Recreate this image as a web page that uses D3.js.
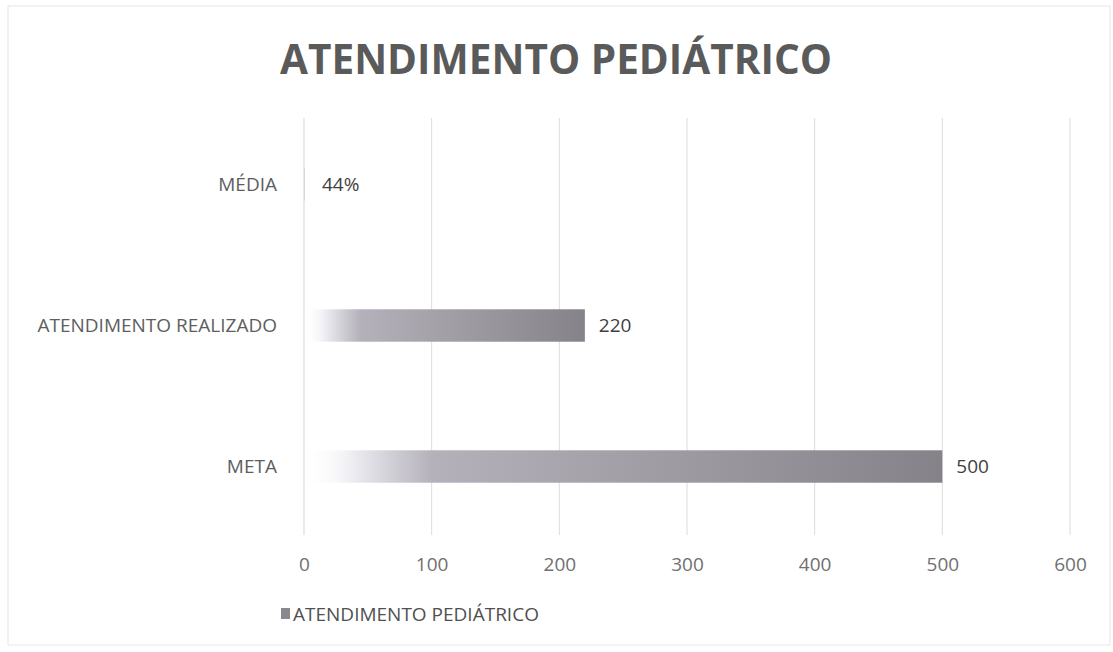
<!DOCTYPE html>
<html><head><meta charset="utf-8">
<script src="https://cdn.jsdelivr.net/npm/d3@7"></script>
<style>body{margin:0;background:#fff}svg{display:block}text{font-family:"Open Sans",sans-serif}</style>
</head><body>
<svg id="c" width="1113" height="652"></svg>
<script>
const title = "ATENDIMENTO PEDIÁTRICO";
const categories = ["MÉDIA", "ATENDIMENTO REALIZADO", "META"];
const values = [0.44, 220, 500];
const valueLabels = ["44%", "220", "500"];
const ticks = [0, 100, 200, 300, 400, 500, 600];
const legendLabel = "ATENDIMENTO PEDIÁTRICO";

const svg = d3.select("#c");
const m = {left: 304, right: 1070, top: 114, bottom: 537};

svg.append("rect").attr("x", 8).attr("y", 6).attr("width", 1102).attr("height", 639)
  .attr("fill", "#fff").attr("stroke", "#e6e6e6").attr("stroke-width", 1);

const defs = svg.append("defs");
const g = defs.append("linearGradient").attr("id", "barGrad").attr("x1", "0").attr("x2", "1").attr("y1", "0").attr("y2", "0");
g.append("stop").attr("offset", "0%").attr("stop-color", "#ffffff").attr("stop-opacity", 0);
g.append("stop").attr("offset", "7%").attr("stop-color", "#f0eff4");
g.append("stop").attr("offset", "20%").attr("stop-color", "#b4b1ba");
g.append("stop").attr("offset", "100%").attr("stop-color", "#858289");

const x = d3.scaleLinear().domain([0, 600]).range([m.left, m.right]);
const y = d3.scaleBand().domain(categories).range([m.top, m.bottom]).paddingInner(0.77).paddingOuter(0.385);

// gridlines (non-zero)
svg.append("g").selectAll("line").data(ticks.filter(t => t !== 0)).join("line")
  .attr("x1", d => x(d)).attr("x2", d => x(d))
  .attr("y1", 118).attr("y2", 535)
  .attr("stroke", "#dcdcdc").attr("stroke-width", 1);

// bars
svg.append("g").selectAll("rect").data(values).join("rect")
  .attr("x", x(0)).attr("y", (d, i) => y(categories[i]))
  .attr("width", d => x(d) - x(0)).attr("height", y.bandwidth())
  .attr("fill", "url(#barGrad)");

// zero line on top
svg.append("line").attr("x1", x(0)).attr("x2", x(0)).attr("y1", 118).attr("y2", 535)
  .attr("stroke", "#e2e2e2").attr("stroke-width", 1.4);

// axis tick labels
const xAxis = d3.axisBottom(x).tickValues(ticks).tickSize(0).tickPadding(0);
const ax = svg.append("g").attr("transform", "translate(0,554)").call(xAxis);
ax.select(".domain").remove();
ax.selectAll("text").attr("font-size", 19).attr("fill", "#707070").attr("dy", "0.9em")
  .style("font-family", '"Open Sans",sans-serif');

// category labels
const yAxis = d3.axisLeft(y).tickSize(0).tickPadding(0);
const ay = svg.append("g").attr("transform", "translate(277,0)").call(yAxis);
ay.select(".domain").remove();
ay.selectAll("text").attr("font-size", 19).attr("fill", "#5e5e5e")
  .style("font-family", '"Open Sans",sans-serif');

// value labels
svg.append("g").selectAll("text").data(values).join("text")
  .attr("x", d => Math.max(x(d) + 14, x(0) + 18))
  .attr("y", (d, i) => y(categories[i]) + y.bandwidth() / 2)
  .attr("dy", "0.35em").attr("font-size", 19).attr("fill", "#404040")
  .text((d, i) => valueLabels[i]);

// title
svg.append("text").attr("x", 556).attr("y", 74).attr("text-anchor", "middle")
  .attr("font-size", 42).attr("font-weight", "bold").attr("fill", "#5a5a5a")
  .attr("textLength", 552).attr("lengthAdjust", "spacingAndGlyphs")
  .text(title);

// legend
svg.append("rect").attr("x", 281).attr("y", 608).attr("width", 9).attr("height", 11).attr("fill", "#8a878e");
svg.append("text").attr("x", 293).attr("y", 614).attr("dy", "0.35em")
  .attr("font-size", 19).attr("fill", "#505050").text(legendLabel);
</script>
</body></html>
